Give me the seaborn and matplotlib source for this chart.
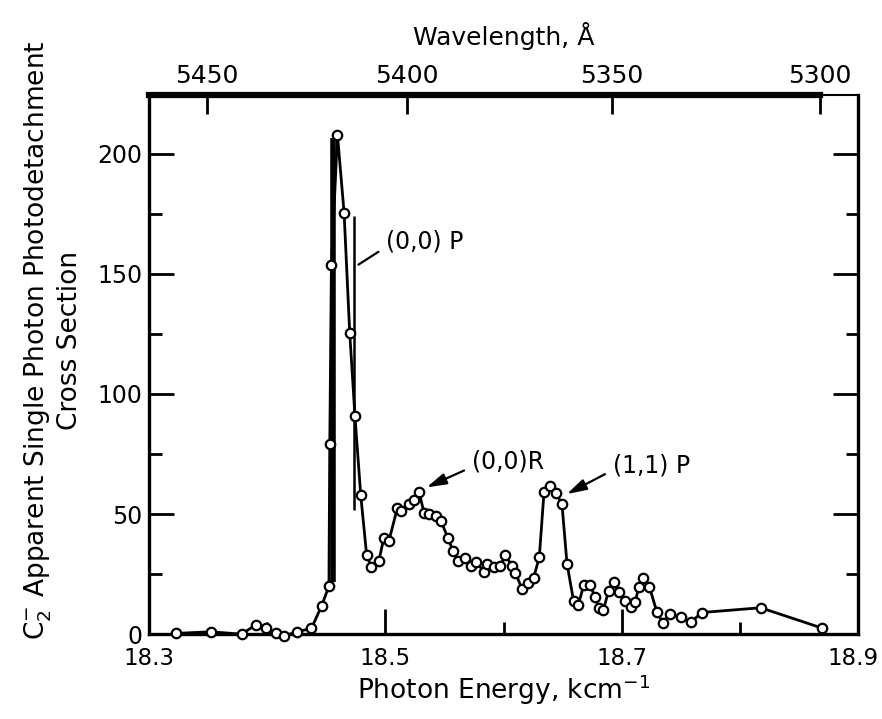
import numpy as np
import pandas as pd
import matplotlib
matplotlib.use("Agg")
import matplotlib.pyplot as plt
import matplotlib.transforms as mtransforms
import seaborn as sns
from matplotlib.ticker import MultipleLocator

# ---- data ----
energy_kcm = [18.3226, 18.3521, 18.3783, 18.3901, 18.3986, 18.4070, 18.4140, 18.4253,
              18.4374, 18.4461, 18.4522, 18.4529, 18.4543, 18.4594, 18.4650, 18.4698,
              18.4742, 18.4791, 18.4841, 18.4881, 18.4945, 18.4987, 18.5030, 18.5101,
              18.5128, 18.5199, 18.5241, 18.5285, 18.5327, 18.5369, 18.5428, 18.5470,
              18.5530, 18.5572, 18.5614, 18.5673, 18.5720, 18.5770, 18.5832, 18.5863,
              18.5918, 18.5969, 18.6015, 18.6070, 18.6100, 18.6156, 18.6204, 18.6254,
              18.6302, 18.6342, 18.6391, 18.6446, 18.6494, 18.6536, 18.6592, 18.6632,
              18.6677, 18.6729, 18.6775, 18.6805, 18.6843, 18.6889, 18.6930, 18.6974,
              18.7029, 18.7075, 18.7113, 18.7144, 18.7178, 18.7234, 18.7297, 18.7347,
              18.7405, 18.7497, 18.7584, 18.7677, 18.8175, 18.8690]
cross_section = [0.3, 1.0, 0.0, 3.8, 2.6, 0.3, -0.8, 1.0,
                 2.4, 11.9, 20.0, 79.0, 153.8, 207.9, 175.5, 125.3,
                 90.8, 57.9, 32.9, 28.0, 30.6, 40.2, 38.9, 52.6,
                 51.4, 54.2, 56.0, 59.0, 50.5, 50.0, 49.2, 47.1,
                 39.9, 34.6, 30.4, 31.5, 28.5, 30.2, 25.8, 29.2,
                 28.1, 28.3, 32.9, 28.5, 25.5, 18.8, 21.4, 23.5,
                 32.1, 59.3, 61.7, 58.6, 54.0, 29.4, 13.8, 12.1,
                 20.4, 20.6, 15.5, 10.8, 10.0, 18.1, 21.7, 17.5,
                 14.0, 11.1, 13.3, 19.8, 23.3, 19.6, 9.2, 4.7,
                 8.6, 7.0, 5.0, 9.0, 11.0, 2.6]

# vertical reference lines (position, low, high)
thick_line = [18.4553, 21.8, 206.5]
p00_line = [18.4734, 51.7, 174.2]

# annotations: label, point (E, value), text position (E, value)
ann_labels = ["(0,0) P", "(0,0)R", "(1,1) P"]
ann_points = [(18.4742, 152.9), (18.5316, 60.4), (18.6503, 57.5)]
ann_text = [(18.5008, 163.3), (18.5736, 71.7), (18.6927, 70.4)]

x_ticks = [18.3, 18.5, 18.7, 18.9]
y_ticks = [0, 50, 100, 150, 200]
wl_ticks = [5450, 5400, 5350, 5300]

# ---- style ----
sns.set_style("ticks")
plt.rcParams["font.family"] = ["DejaVu Sans"]
plt.rcParams["mathtext.fontset"] = "dejavusans"
for k in ["text.color", "axes.labelcolor", "xtick.color", "ytick.color", "axes.edgecolor"]:
    plt.rcParams[k] = "black"

fig = plt.figure(figsize=(8.82, 7.19), dpi=100)
ax = fig.add_axes([0.169, 0.118, 0.804, 0.750])

df = pd.DataFrame({"E": energy_kcm, "sigma": cross_section})

ax.vlines(thick_line[0], thick_line[1], thick_line[2], color="black", lw=4.0, zorder=2)
ax.vlines(p00_line[0], p00_line[1], p00_line[2], color="black", lw=1.8, zorder=2)

sns.lineplot(data=df, x="E", y="sigma", ax=ax, color="black", lw=2.0,
             marker="o", markersize=6.8, markerfacecolor="white",
             markeredgecolor="black", markeredgewidth=1.6,
             estimator=None, sort=False, clip_on=False, zorder=3)

for lab, pt, tp in zip(ann_labels, ann_points, ann_text):
    style = "-" if lab == "(0,0) P" else "-|>,head_length=0.7,head_width=0.2"
    ax.annotate(lab, xy=pt, xytext=tp, fontsize=17, ha="left", va="center",
                arrowprops=dict(arrowstyle=style, color="black", lw=1.6,
                                relpos=(0.0, 0.3), shrinkA=4, shrinkB=3))

ax.set_xlim(18.3, 18.9)
ax.set_ylim(0, 224.5)
ax.set_xticks(x_ticks)
ax.set_xticklabels([f"{v:.1f}" for v in x_ticks])
ax.xaxis.set_minor_locator(MultipleLocator(0.1))
ax.set_yticks(y_ticks)
ax.yaxis.set_minor_locator(MultipleLocator(25))

ax.tick_params(which="major", direction="in", length=18, width=2, labelsize=16.5,
               right=True, top=False, pad=9)
ax.tick_params(axis="y", which="major", pad=5, labelsize=17)
ax.tick_params(which="minor", direction="in", length=9, width=2, right=True, top=False)

# nudge the last bottom tick label inward so it stays inside the figure
last = ax.get_xticklabels()[-1]
last.set_transform(last.get_transform() +
                   mtransforms.ScaledTranslation(-5 / 100, 0, fig.dpi_scale_trans))

for side in ["left", "bottom", "right"]:
    ax.spines[side].set_linewidth(2.4)
ax.spines["top"].set_linewidth(1.5)

ax.set_xlabel(r"Photon Energy, kcm$^{-1}$", fontsize=19, labelpad=2)
ax.set_ylabel("$\\mathregular{C_2^{-}}$ Apparent Single Photon Photodetachment\nCross Section",
              fontsize=19, linespacing=1.15)
ax.yaxis.set_label_coords(-0.093, 0.545)

# top wavelength axis
secax = ax.secondary_xaxis("top", functions=(lambda e: 1e5 / np.asarray(e, float),
                                             lambda l: 1e5 / np.asarray(l, float)))
secax.set_xticks(wl_ticks)
secax.set_xticklabels([str(v) for v in wl_ticks])
secax.tick_params(direction="in", length=14, width=2, labelsize=18, pad=5)
secax.spines["top"].set_linewidth(4.5)
secax.spines["top"].set_bounds(5300, 1e5 / 18.3)
secax.set_xlabel("Wavelength, Å", fontsize=18, labelpad=14)

fig.savefig("out.png", dpi=100)
